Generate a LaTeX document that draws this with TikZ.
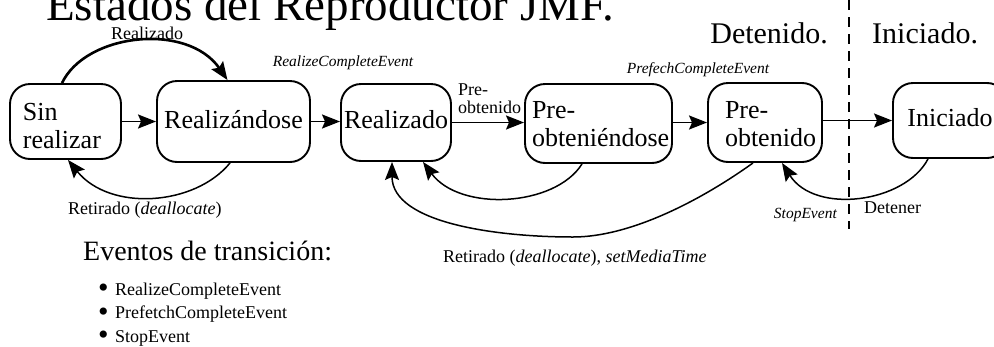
\documentclass[tikz,border=0pt]{standalone}
\usepackage{fontspec}
\setmainfont{Liberation Serif}
\usetikzlibrary{arrows.meta}
\newcommand{\listdot}{\makebox[17pt][l]{\smash{\raisebox{-2.5pt}{\fontsize{30}{30}\selectfont\textbullet}}}}
\begin{document}
\begin{tikzpicture}[x=1pt,y=-1pt,
  state/.style={draw, line width=1.9pt, rounded corners=20pt, inner sep=0pt,
    font=\fontsize{26}{28.5}\selectfont},
  tipped/.style={-{Stealth[length=18pt,width=14pt,inset=3pt]}},
  flow/.style={tipped, line width=1.9pt},
  back/.style={tipped, line width=1.5pt},
  small/.style={font=\fontsize{18}{18}\selectfont, inner sep=0pt},
  evt/.style={font=\fontsize{15.5}{16}\selectfont\itshape, inner sep=0pt},
  head/.style={font=\fontsize{30}{30}\selectfont, inner sep=0pt}]
\clip (0,0) rectangle (994,346);

% title and region headings
\node[font=\fontsize{47}{47}\selectfont, inner sep=0pt, anchor=base west] (title) at (46,20) {Estados del Reproductor JMF.};
\node[head, anchor=base east] (hdet) at (828,43) {Detenido.};
\node[head, anchor=base west] (hini) at (872,43) {Iniciado.};

% separator between stopped and started states
\coordinate (dtop) at (849,0);
\coordinate (dbot) at (849,229);
\draw[line width=1.9pt, dash pattern=on 10pt off 7pt] (dtop) -- (dbot);

% states
\node[state, minimum width=111pt, minimum height=75pt, text width=85pt, align=left,
  text height=18pt, text depth=21pt] (sr) at (65.5,121.5) {Sin\\realizar};
\node[state, minimum width=153pt, minimum height=81pt,
  text height=18pt, text depth=5pt] (rz) at (233.5,121.5) {Realizándose};
\node[state, minimum width=110pt, minimum height=77pt,
  text height=18pt, text depth=7pt] (rd) at (396,122.5) {Realizado};
\node[state, minimum width=147pt, minimum height=79pt, text width=133pt, align=left,
  text height=18pt, text depth=29pt] (pe) at (598.5,123.5) {Pre-\\obteniéndose};
\node[state, minimum width=114pt, minimum height=79pt, text width=80pt, align=left,
  text height=18pt, text depth=27pt] (po) at (765,122.5) {Pre-\\obtenido};
\node[state, minimum width=114pt, minimum height=75pt,
  text height=18pt, text depth=7pt] (in) at (950,120.5) {Iniciado};

% forward transitions
\draw[flow] (sr) -- (rz);
\draw[flow] (rz.east) -- (rz.east -| rd.west);
\draw[flow] (rd.east) -- (rd.east -| pe.west);
\draw[flow] (po.west -| pe.east) -- (po.west);
\draw[flow] (in.west -| po.east) -- (in.west);

\draw[tipped, line width=2.6pt] ([xshift=-3.5pt]sr.north) .. controls +(24,-50) and +(-40,-58) .. ([xshift=-6pt]rz.north);

% backward transitions
\draw[back] ([xshift=-3.5pt]rz.south) .. controls +(-35,43) and +(42,52) .. ([xshift=2.5pt]sr.south);
\draw[back] ([xshift=-16.5pt]pe.south) .. controls +(-27,43) and +(37,50) .. ([xshift=27pt]rd.south);
\coordinate (lowmid) at (573,237);
\draw[back] ([xshift=-12pt]po.south) .. controls +(-53,38) and +(57,0) .. (lowmid)
  .. controls +(-73,0) and +(0,62) .. ([xshift=-4pt]rd.south);
\draw[back] ([xshift=-22pt]in.south) .. controls +(-23,44) and +(33,52) .. ([xshift=17pt]po.south);

% transition labels
\node[small, anchor=base] (lreal) at (147,39) {Realizado};
\node[evt, anchor=base] (lrce) at (343,66) {RealizeCompleteEvent};
\node[evt, anchor=base] (lpce) at (698,73) {PrefechCompleteEvent};
\node[small, align=left, anchor=base west, font=\fontsize{18}{18}\selectfont] (lpre) at (458,113) {Pre-\\obtenido};
\node[small, anchor=base west] (lret1) at (68,214) {Retirado (\textit{deallocate})};
\node[small, anchor=base west] (lret2) at (443,262) {Retirado (\textit{deallocate}), \textit{setMediaTime}};
\node[evt, anchor=base east] (lstop) at (837,218) {StopEvent};
\node[small, anchor=base west] (ldet) at (864,213) {Detener};

% list of events
\node[font=\fontsize{28}{28}\selectfont, inner sep=0pt, anchor=base west] (hev) at (83,260) {Eventos de transición:};
\node[inner sep=0pt, align=left, anchor=base west, font=\fontsize{18}{23.5}\selectfont] (list) at (98,342)
  {\listdot RealizeCompleteEvent\\
   \listdot PrefetchCompleteEvent\\
   \listdot StopEvent};
\end{tikzpicture}
\end{document}
